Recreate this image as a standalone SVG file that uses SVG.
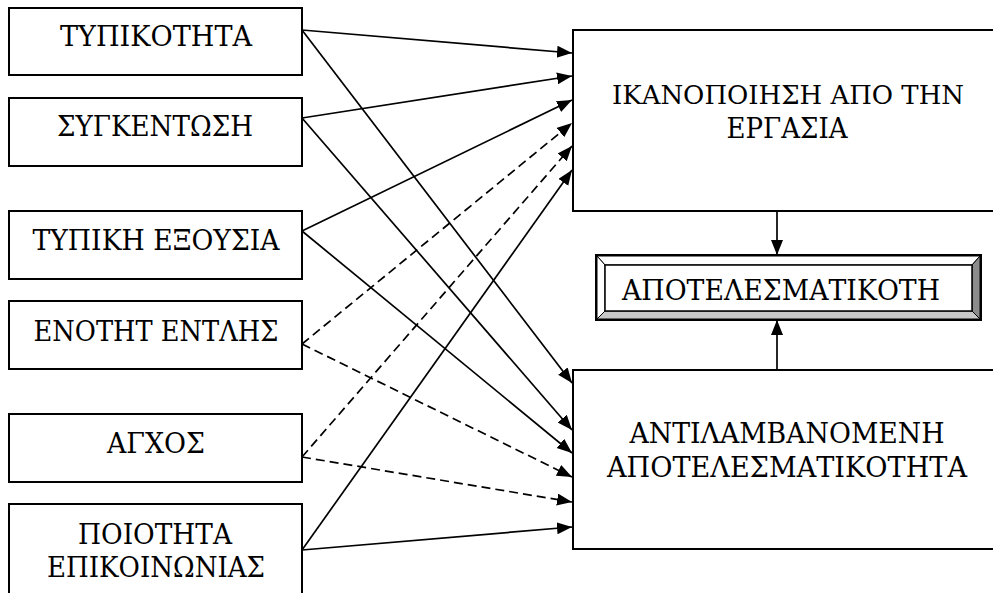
<svg xmlns="http://www.w3.org/2000/svg" width="993" height="593" viewBox="0 0 993 593">
  <style>
    .box { fill: #ffffff; stroke: #000000; stroke-width: 2; }
    .lbl { font-family: "DejaVu Serif", "Liberation Serif", serif; font-size: 28.5px; fill: #000000; text-anchor: middle; }
    .lbl-long { font-size: 26px; }
    .solid { fill: none; stroke: #000000; stroke-width: 1.7; marker-end: url(#head); }
    .dash { fill: none; stroke: #000000; stroke-width: 1.7; stroke-dasharray: 9 5; marker-end: url(#head); }
  </style>
  <defs>
    <marker id="head" markerUnits="userSpaceOnUse" markerWidth="17" markerHeight="13" refX="15" refY="6" orient="auto">
      <path d="M0,0 L15,6 L0,12 z" fill="#000000"/>
    </marker>
  </defs>
  <rect width="993" height="593" fill="#ffffff"/>

  <!-- source factors -->
  <g id="typikotita">
    <rect class="box" x="9" y="8" width="293" height="67"/>
    <text class="lbl" x="156" y="46" textLength="192" lengthAdjust="spacingAndGlyphs">ΤΥΠΙΚΟΤΗΤΑ</text>
  </g>
  <g id="sygkentrosi">
    <rect class="box" x="9" y="98" width="293" height="68"/>
    <text class="lbl" x="155" y="136" textLength="196" lengthAdjust="spacingAndGlyphs">ΣΥΓΚΕΝΤΩΣΗ</text>
  </g>
  <g id="typiki-exousia">
    <rect class="box" x="9" y="211" width="293" height="68"/>
    <text class="lbl" x="156" y="250" textLength="247" lengthAdjust="spacingAndGlyphs">ΤΥΠΙΚΗ ΕΞΟΥΣΙΑ</text>
  </g>
  <g id="enotita-entolis">
    <rect class="box" x="9" y="301" width="293" height="68"/>
    <text class="lbl" x="156" y="341" textLength="245" lengthAdjust="spacingAndGlyphs">ΕΝΟΤΗΤ ΕΝΤΛΗΣ</text>
  </g>
  <g id="agxos">
    <rect class="box" x="9" y="414" width="293" height="68"/>
    <text class="lbl" x="156" y="453" textLength="98" lengthAdjust="spacingAndGlyphs">ΑΓΧΟΣ</text>
  </g>
  <g id="poiotita">
    <!-- box runs past the bottom edge, so only three sides are drawn -->
    <path class="box" d="M9,593 L9,504 L302,504 L302,593"/>
    <text class="lbl" x="155" y="544" textLength="154" lengthAdjust="spacingAndGlyphs">ΠΟΙΟΤΗΤΑ</text>
    <text class="lbl" x="156" y="577" textLength="218" lengthAdjust="spacingAndGlyphs">ΕΠΙΚΟΙΝΩΝΙΑΣ</text>
  </g>

  <!-- outcome boxes (open towards the right edge) -->
  <g id="ikanopoiisi">
    <path class="box" d="M993,30 L573,30 L573,211 L993,211"/>
    <text class="lbl lbl-long" x="788" y="104" textLength="352" lengthAdjust="spacingAndGlyphs">ΙΚΑΝΟΠΟΙΗΣΗ ΑΠΟ ΤΗΝ</text>
    <text class="lbl" x="787" y="138" textLength="121" lengthAdjust="spacingAndGlyphs">ΕΡΓΑΣΙΑ</text>
  </g>
  <g id="apotelesmatikotita">
    <rect x="596" y="255" width="385" height="65" fill="#ffffff" stroke="#000000" stroke-width="2"/>
    <!-- bevelled frame -->
    <polygon points="597,256 980,256 972,265 605,265" fill="#ffffff" stroke="#000000" stroke-width="1"/>
    <polygon points="597,256 605,265 605,311 597,319" fill="#ffffff" stroke="#000000" stroke-width="1"/>
    <polygon points="980,256 980,319 972,311 972,265" fill="#8c8c8c" stroke="#000000" stroke-width="1"/>
    <polygon points="597,319 605,311 972,311 980,319" fill="#c8c8c8" stroke="#000000" stroke-width="1"/>
    <rect x="605" y="265" width="367" height="46" fill="#ffffff" stroke="#000000" stroke-width="1.5"/>
    <text class="lbl" x="781" y="300" textLength="318" lengthAdjust="spacingAndGlyphs">ΑΠΟΤΕΛΕΣΜΑΤΙΚΟΤΗ</text>
  </g>
  <g id="antilambanomeni">
    <path class="box" d="M993,370 L573,370 L573,549 L993,549"/>
    <text class="lbl" x="787" y="443" textLength="315" lengthAdjust="spacingAndGlyphs">ΑΝΤΙΛΑΜΒΑΝΟΜΕΝΗ</text>
    <text class="lbl" x="787" y="477" textLength="360" lengthAdjust="spacingAndGlyphs">ΑΠΟΤΕΛΕΣΜΑΤΙΚΟΤΗΤΑ</text>
  </g>

  <!-- connectors -->
  <g id="connectors">
    <!-- into job satisfaction -->
    <line class="solid" x1="302" y1="30" x2="572" y2="53"/>
    <line class="solid" x1="302" y1="118" x2="572" y2="76"/>
    <line class="solid" x1="302" y1="231" x2="572" y2="100"/>
    <line class="dash" x1="302" y1="344" x2="572" y2="123"/>
    <line class="dash" x1="302" y1="457" x2="572" y2="146"/>
    <line class="solid" x1="302" y1="550" x2="572" y2="170"/>
    <!-- into perceived effectiveness -->
    <line class="solid" x1="302" y1="30" x2="572" y2="383"/>
    <line class="solid" x1="302" y1="118" x2="572" y2="430"/>
    <line class="solid" x1="302" y1="231" x2="572" y2="453"/>
    <line class="dash" x1="302" y1="344" x2="572" y2="477"/>
    <line class="dash" x1="302" y1="457" x2="572" y2="502"/>
    <line class="solid" x1="302" y1="550" x2="572" y2="527"/>
    <!-- into effectiveness -->
    <line class="solid" x1="777" y1="211" x2="777" y2="255"/>
    <line class="solid" x1="777" y1="370" x2="777" y2="320"/>
  </g>
</svg>
